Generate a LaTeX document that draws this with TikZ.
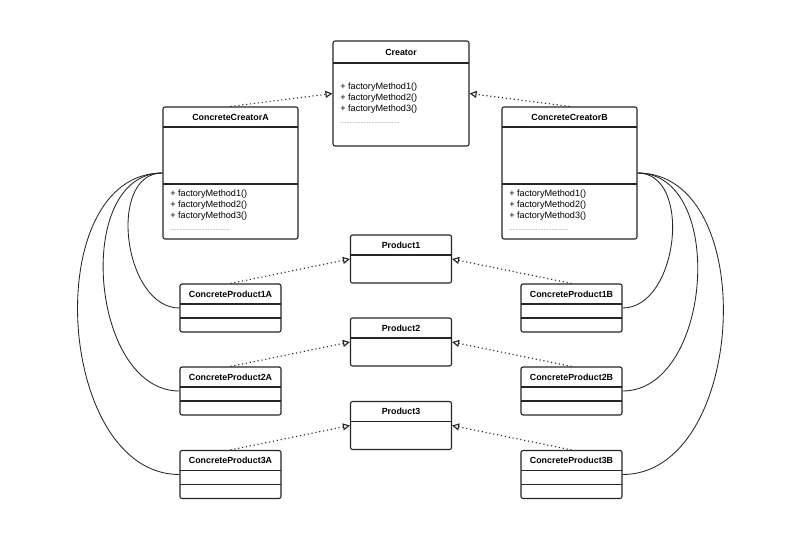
\documentclass[tikz,border=0pt]{standalone}
\usepackage{fontspec}
\setmainfont{Liberation Sans}
\usetikzlibrary{arrows.meta}

\begin{document}
\begin{tikzpicture}
    [
    x=0.025cm, y=-0.025cm,
    classbox/.style={draw=black!85,fill=white,rounded corners=1.5pt,line width=0.8pt,inner sep=0pt},
    bigbox/.style={classbox,minimum width=3.375cm,minimum height=3.3cm},
    smallbox/.style={classbox,minimum width=2.525cm,minimum height=1.2cm},
    sepline/.style={draw=black!85,line width=0.8pt},
    title/.style={font=\bfseries\fontsize{6.3}{7}\selectfont,inner sep=0pt},
    ops/.style={font=\fontsize{6.5}{7.8}\selectfont,align=left,anchor=west,inner sep=0pt},
    etc/.style={font=\fontsize{4}{5}\selectfont,anchor=base west,inner sep=0pt,text=black!70},
    realize/.style={dotted,line width=0.8pt,black!85,-{Triangle[open,length=5pt,width=5pt]}},
    link/.style={line width=0.6pt,black!85}
    ]
    \useasboundingbox [fill=white] (0,0) rectangle (800,541);
    % creator
    \node (creator) at (401,93.5) [classbox, minimum width=3.4cm, minimum height=2.625cm] {};
    \node (creatortitle) at (401,52) [title] {Creator};
    \draw [sepline] (333,63) -- (469,63);
    \node (creatorops) at (340,98) [ops] {+ factoryMethod1()\\+ factoryMethod2()\\+ factoryMethod3()};
    \node (creatoretc) at (340,123) [etc] {......................................};
    % concrete creators
    \node (creatorA) at (230.5,173) [bigbox] {};
    \node (creatorAtitle) at (230.5,117) [title] {ConcreteCreatorA};
    \draw [sepline] (163,127) -- (298,127);
    \draw [sepline] (163,184) -- (298,184);
    \node (creatorAops) at (170,205) [ops] {+ factoryMethod1()\\+ factoryMethod2()\\+ factoryMethod3()};
    \node (creatorAetc) at (170,230) [etc] {......................................};
    \node (creatorB) at (569.5,173) [bigbox] {};
    \node (creatorBtitle) at (569.5,117) [title] {ConcreteCreatorB};
    \draw [sepline] (502,127) -- (637,127);
    \draw [sepline] (502,184) -- (637,184);
    \node (creatorBops) at (509,205) [ops] {+ factoryMethod1()\\+ factoryMethod2()\\+ factoryMethod3()};
    \node (creatorBetc) at (509,230) [etc] {......................................};
    \draw [realize] (creatorA.north) to (creator.west);
    \draw [realize] (creatorB.north) to (creator.east);
    % products
    \foreach \i/\y in {1/259,2/342,3/425.5} {
      \node (product\i) at (401,\y) [smallbox] {};
      \node (product\i title) at (401,\y-14) [title] {Product\i};
      \draw [sepline] (350,\y-4) -- (452,\y-4);
      \node (productA\i) at (230.5,\y+49) [smallbox] {};
      \node (productA\i title) at (230.5,\y+35) [title] {ConcreteProduct\i A};
      \draw [sepline] (180,\y+45) -- (281,\y+45);
      \draw [sepline] (180,\y+59) -- (281,\y+59);
      \node (productB\i) at (571.5,\y+49) [smallbox] {};
      \node (productB\i title) at (571.5,\y+35) [title] {ConcreteProduct\i B};
      \draw [sepline] (521,\y+45) -- (622,\y+45);
      \draw [sepline] (521,\y+59) -- (622,\y+59);
      \draw [realize] (productA\i.north) to (product\i.west);
      \draw [realize] (productB\i.north) to (product\i.east);
      \draw [link] (creatorA.west) to [out=180,in=180,looseness=1.05] (productA\i.west);
      \draw [link] (creatorB.east) to [out=0,in=0,looseness=1.05] (productB\i.east);
    }
  \end{tikzpicture}
\end{document}
